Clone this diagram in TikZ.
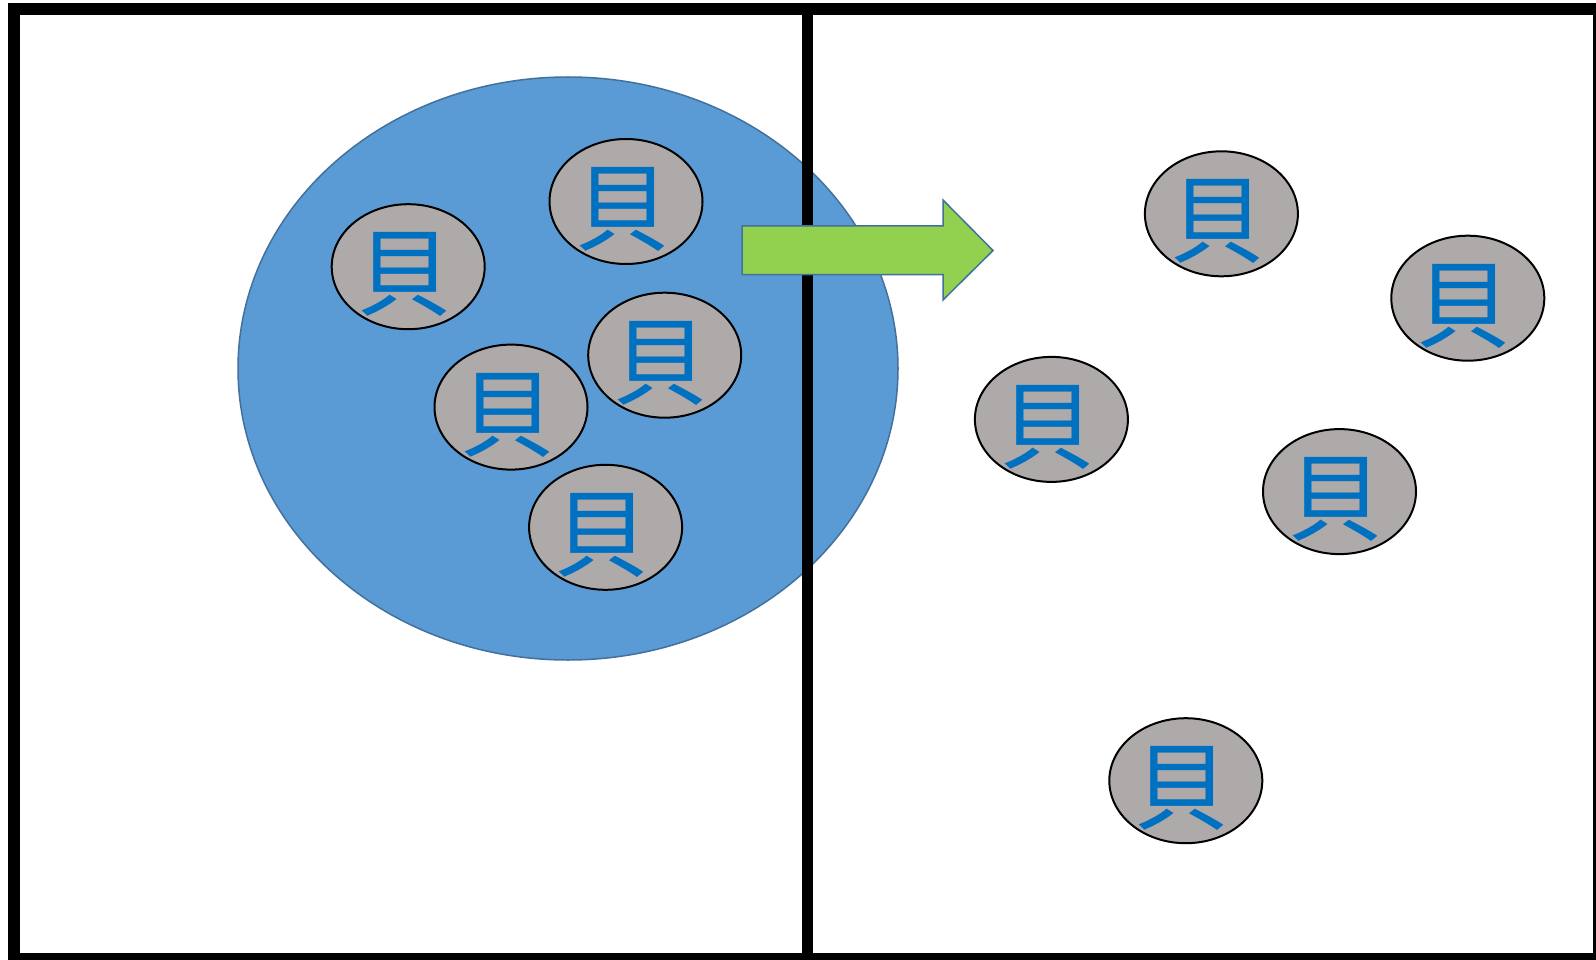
\documentclass[tikz,border=0pt]{standalone}
\usepackage{fontspec}
\newfontfamily\cjk{Noto Sans CJK JP}
\usetikzlibrary{shapes.geometric}
\definecolor{bigblue}{HTML}{5B9BD5}
\definecolor{edgeblue}{HTML}{41719C}
\definecolor{shellgray}{HTML}{AEAAAA}
\definecolor{glyphblue}{HTML}{0070C0}
\definecolor{arrowgreen}{HTML}{92D050}
\tikzset{
  shell/.style={ellipse, draw=black, line width=2pt, fill=shellgray,
    minimum width=153pt, minimum height=125pt, inner sep=0pt},
  glyph/.style={text=glyphblue, inner sep=0pt,
    font=\cjk\fontsize{96}{96}\selectfont},
}
\begin{document}
\begin{tikzpicture}[x=1pt,y=-1pt]
\useasboundingbox (0,0) rectangle (1596,960);
\fill[white] (0,0) rectangle (1596,960);
% big blue ellipse
\node[ellipse, draw=edgeblue, line width=1.5pt, fill=bigblue,
  minimum width=660pt, minimum height=583pt, inner sep=0pt] (big) at (568,368.5) {};
% shells
\foreach \n/\x/\y in {1/408.2/266.7, 2/626.0/201.5, 3/664.7/355.2, 4/511.0/407.1,
  5/605.6/527.3, 6/1221.4/213.8, 7/1467.8/298.2, 8/1051.4/419.4,
  9/1339.5/491.6, 10/1185.8/780.7}{
  \node[shell] (s\n) at (\x,\y) {};
  \node[glyph, anchor=center] (g\n) at ([xshift=-4pt,yshift=-8pt]s\n.center) {貝};
}
% frame and divider
\draw[line width=11pt] (807,9) coordinate (dtop) -- (807,958) coordinate (dbot);
\draw[line width=12pt] (14,9) rectangle (1599,959);
% arrow
\draw[edgeblue, line width=1.5pt, fill=arrowgreen, line join=miter]
  (742,226) -- (943,226) -- (943,200) -- (993,250.5) -- (943,300)
  -- (943,274.5) -- (742,274.5) -- cycle;
\end{tikzpicture}
\end{document}
